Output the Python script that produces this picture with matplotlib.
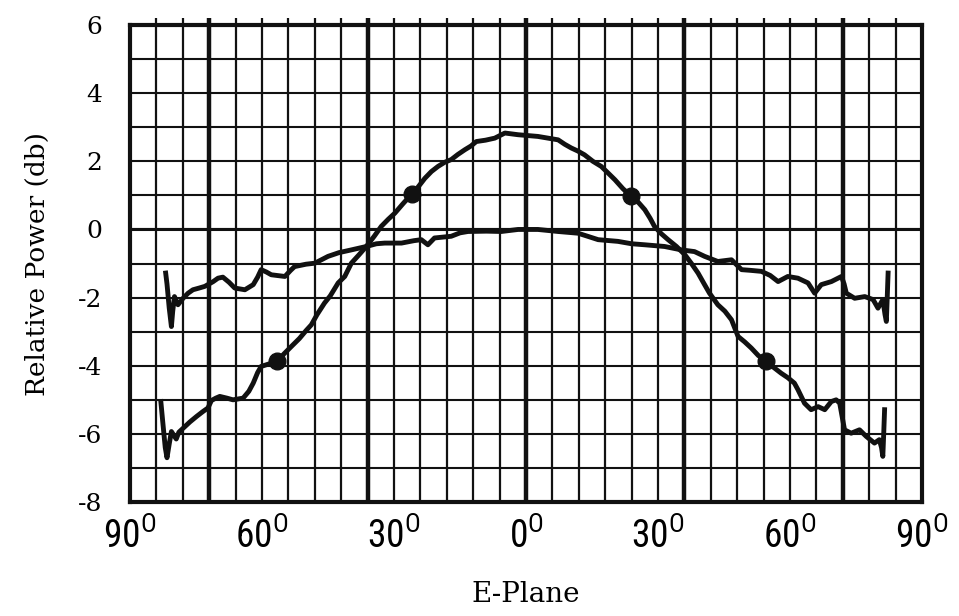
import numpy as np
import matplotlib
matplotlib.use("Agg")
import matplotlib.pyplot as plt
from matplotlib import font_manager

# ---- data ----
# peaked pattern (with the dot markers)
angle_a = [-83.0, -82.6, -82.0, -81.6, -81.1, -80.6, -80.0, -79.5, -78.9, -77.9,
           -76.4, -74.9, -73.5, -72.3, -71.5, -70.5, -69.6, -68.0, -66.6, -64.3,
           -63.0, -62.0, -61.0, -60.2, -58.5, -56.5, -55.0, -53.3, -51.5, -50.0,
           -48.8, -47.5, -45.8, -44.5, -42.7, -41.2, -39.7, -38.0, -36.3, -34.5,
           -32.9, -31.3, -29.8, -28.0, -25.9, -24.5, -23.0, -21.5, -20.0, -18.5,
           -17.0, -15.5, -13.9, -12.5, -11.3, -9.2, -7.1, -4.8, -1.8, 2.7,
           5.0, 7.3, 8.8, 10.3, 11.8, 13.3, 15.2, 17.1, 18.7, 20.2,
           22.0, 23.9, 25.5, 27.0, 28.2, 29.2, 30.7, 32.3, 34.2, 36.1,
           37.6, 39.1, 40.5, 41.7, 43.6, 45.2, 46.7, 48.2, 49.7, 51.2,
           52.8, 54.6, 56.3, 58.0, 59.5, 61.0, 61.8, 63.3, 64.8, 66.4,
           67.9, 69.4, 70.5, 71.3, 72.0, 72.4, 73.9, 75.8, 77.3, 79.2,
           80.3, 80.8, 81.1, 81.3, 81.5]
power_a = [-5.05, -5.6, -6.4, -6.7, -6.3, -5.93, -6.05, -6.15, -5.95, -5.83,
           -5.65, -5.49, -5.35, -5.24, -5.02, -4.95, -4.90, -4.95, -5.00, -4.95,
           -4.75, -4.51, -4.2, -4.02, -3.95, -3.87, -3.65, -3.43, -3.2, -2.97,
           -2.80, -2.5, -2.16, -1.95, -1.57, -1.38, -0.99, -0.75, -0.5, -0.2,
           0.09, 0.3, 0.48, 0.75, 1.05, 1.25, 1.50, 1.7, 1.85, 1.97,
           2.05, 2.2, 2.34, 2.45, 2.58, 2.62, 2.68, 2.83, 2.78, 2.73,
           2.68, 2.63, 2.5, 2.39, 2.3, 2.19, 2.0, 1.85, 1.65, 1.46,
           1.2, 0.97, 0.8, 0.58, 0.33, 0.09, -0.12, -0.3, -0.5, -0.74,
           -1.0, -1.28, -1.6, -1.87, -2.21, -2.4, -2.65, -3.14, -3.3, -3.48,
           -3.7, -3.87, -4.05, -4.22, -4.35, -4.51, -4.7, -5.1, -5.29, -5.2,
           -5.29, -5.05, -5.0, -5.1, -5.6, -5.88, -5.98, -5.88, -6.07, -6.27,
           -6.17, -6.4, -6.66, -6.0, -5.29]

dot_angle = [-56.5, -25.9, 23.9, 54.6]
dot_power = [-3.87, 1.05, 0.97, -3.87]

# flat pattern
angle_b = [-81.9, -81.6, -81.1, -80.6, -80.3, -79.9, -79.1, -77.95, -76.8, -75.7,
           -74.3, -73.0, -71.1, -70.0, -68.9, -67.5, -66.2, -63.9, -62.0, -61.0,
           -60.2, -59.0, -57.9, -54.8, -53.5, -52.6, -50.0, -48.0, -45.0, -42.5,
           -39.7, -36.3, -34.0, -32.1, -28.3, -25.5, -23.8, -22.3, -20.8, -17.0,
           -15.0, -13.2, -9.0, -5.6, -1.8, 2.7, 7.3, 11.8, 14.0, 16.4,
           20.9, 24.0, 27.0, 31.5, 35.3, 38.3, 40.6, 43.6, 46.7, 49.0,
           51.0, 53.5, 55.5, 57.3, 59.5, 61.8, 64.1, 65.6, 67.1, 69.4,
           71.7, 72.3, 72.8, 74.7, 77.0, 78.9, 80.0, 81.1, 81.6, 81.9,
           82.1, 82.3]
power_b = [-1.28, -1.6, -2.3, -2.85, -2.4, -1.97, -2.21, -2.02, -1.87, -1.77,
           -1.72, -1.67, -1.53, -1.43, -1.40, -1.55, -1.72, -1.77, -1.62, -1.4,
           -1.18, -1.25, -1.33, -1.38, -1.2, -1.09, -1.02, -0.99, -0.79, -0.68,
           -0.6, -0.5, -0.42, -0.40, -0.40, -0.33, -0.30, -0.45, -0.25, -0.20,
           -0.1, -0.06, -0.05, -0.06, 0.0, 0.0, -0.06, -0.11, -0.2, -0.30,
           -0.35, -0.42, -0.45, -0.50, -0.60, -0.65, -0.79, -0.94, -0.89, -1.18,
           -1.2, -1.23, -1.35, -1.53, -1.38, -1.43, -1.57, -1.87, -1.62, -1.53,
           -1.38, -1.6, -1.87, -2.02, -1.97, -2.06, -2.31, -2.06, -2.5, -2.7,
           -2.0, -1.28]

x_ticks = [-90, -60, -30, 0, 30, 60, 90]
x_labels = ["90", "60", "30", "0", "30", "60", "90"]
y_ticks = [-8, -6, -4, -2, 0, 2, 4, 6]

# ---- fonts ----
installed = {f.name for f in font_manager.fontManager.ttflist}
narrow = "Liberation Sans"
for cand in ["Liberation Sans Narrow", "DejaVu Sans Condensed", "Roboto Condensed",
             "Open Sans Condensed", "Noto Sans Condensed"]:
    if cand in installed:
        narrow = cand
        break
plt.rcParams["font.family"] = ["DejaVu Serif"]
plt.rcParams["mathtext.fontset"] = "custom"
plt.rcParams["mathtext.rm"] = narrow
plt.rcParams["mathtext.it"] = narrow
plt.rcParams["axes.unicode_minus"] = False

fig = plt.figure(figsize=(9.59, 6.16), dpi=100)
ax = fig.add_axes([0.1356, 0.185, 0.8258, 0.7744])
ax.set_xlim(-90, 90)
ax.set_ylim(-8, 6)

# graph paper grid
ink = "#111111"
heavy_x = [-72, -36, 0, 36, 72]
thin_x = [v for v in np.arange(-84, 90, 6) if v not in heavy_x]
ax.vlines(thin_x, -8, 6.22, color=ink, lw=1.6, clip_on=False, zorder=1)
ax.vlines(heavy_x, -8, 6.22, color=ink, lw=3.2, clip_on=False, zorder=1)
ax.hlines(np.arange(-7, 6, 1), -90, 90, color=ink, lw=1.5, zorder=1)
ax.hlines([0], -90, 90, color=ink, lw=2.2, zorder=1)

# patterns
ax.plot(angle_a, power_a, color=ink, lw=3.5, solid_joinstyle="round", zorder=3)
ax.plot(angle_b, power_b, color=ink, lw=3.5, solid_joinstyle="round", zorder=3)
ax.plot(dot_angle, dot_power, "o", color=ink, ms=12, zorder=4)

for s in ax.spines.values():
    s.set_linewidth(3.0)
    s.set_color(ink)

ax.set_xticks(x_ticks)
ax.set_xticklabels([r"$\mathrm{%s}^{\mathrm{O}}$" % t for t in x_labels], fontsize=27)
ax.set_yticks(y_ticks)
ax.set_yticklabels([str(t) for t in y_ticks], fontsize=18)
ax.tick_params(axis="both", length=0)
ax.tick_params(axis="x", pad=11)
ax.tick_params(axis="y", pad=20)

ax.set_ylabel("Relative Power (db)", fontsize=19, labelpad=20)
ax.set_xlabel("E-Plane", fontsize=20, labelpad=18)

fig.savefig("out.png", dpi=100, facecolor="white")
